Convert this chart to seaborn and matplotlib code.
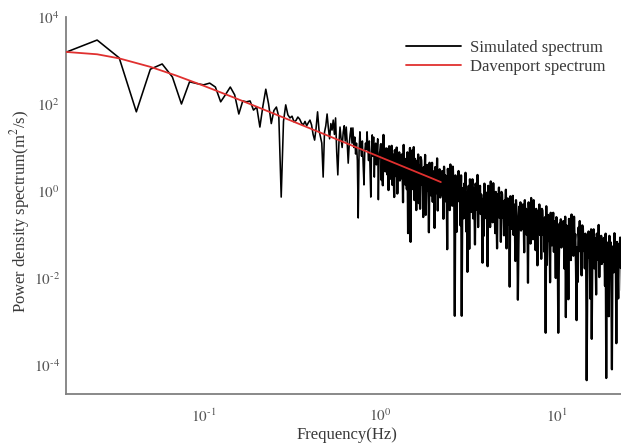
import numpy as np
import pandas as pd
import matplotlib
matplotlib.use("Agg")
import matplotlib.pyplot as plt
import seaborn as sns
from matplotlib.ticker import FixedLocator, NullLocator, FuncFormatter

# ---------------- data (log10 of PSD values) ----------------
# low-frequency part: f = k/120 Hz, k = 2..120
sim_low_k = np.arange(2, 121)
sim_low_log = [
    3.19, 3.47, 3.06, 1.82, 2.80, 2.92, 2.62, 2.00, 2.51, 2.47,
    2.44, 2.48, 2.39, 2.05, 2.22, 2.39, 2.21, 1.77, 2.07, 2.05,
    2.07, 1.86, 1.93, 1.47, 1.95, 2.34, 2.00, 1.55, 1.85, 1.93,
    1.70, -0.14, 1.60, 1.98, 1.75, 1.68, 1.72, 1.59, 1.62, 1.70,
    1.65, 1.56, 1.52, 1.60, 1.50, 1.57, 1.63, 1.52, 1.30, 1.17,
    1.45, 1.82, 1.40, 1.25, 1.10, 0.32, 1.35, 1.50, 1.77, 1.45,
    1.20, 1.55, 1.40, 1.63, 1.30, 1.68, 0.90, 0.37, 1.10, 1.47,
    1.20, 1.00, 1.35, 1.50, 1.15, 1.47, 1.10, 0.64, 1.05, 1.30,
    1.45, 1.10, 1.45, 1.00, 1.24, 0.85, 1.10, 0.70, -0.62, 0.90,
    1.36, 1.00, 0.80, 1.15, 0.60, 0.14, 0.90, 1.10, 0.95, 1.36,
    1.00, 0.70, 1.15, 0.50, -0.14, 0.90, 1.29, 0.80, 1.24, 0.32,
    0.95, 1.10, 0.60, 0.85, 1.20, -0.20, 0.70, 0.90, 0.94,
]
# high-frequency part (1 Hz .. 23.5 Hz, log-spaced samples)
sim_high_log = [
    1.08, 0.25, 0.83, 0.13, 1.29, 0.63, 0.98, 0.45, 0.73, 0.98, 0.38, 0.88, 0.02, 1.03, 0.68, 0.28,
    0.74, 1.04, 0.14, 0.84, 0.49, -0.14, 0.94, 0.64, 0.34, 1.00, -0.06, 0.79, 0.54, 0.89, 0.24, 0.69,
    0.29, 0.84, 0.59, -0.26, 1.06, 0.44, 0.74, 0.14, 0.64, 0.04, 0.89, -0.97, 0.74, -0.06, 0.99, -1.17,
    0.76, 0.04, 0.94, 0.34, 1.01, -0.21, 0.74, 0.24, -0.44, 0.69, 0.44, 0.84, -0.28, 0.59, -0.41, 0.78,
    0.70, 0.15, 0.45, -0.60, 0.55, 0.25, 0.83, -0.55, 0.35, 0.60, 0.00, 0.50, -0.95, 0.65, 0.30, -0.10,
    0.35, 0.65, -0.25, 0.45, 0.10, -0.85, 0.55, 0.25, -0.05, 0.75, -0.45, 0.40, 0.15, 0.50, -0.15, 0.30,
    -0.09, 0.46, 0.21, -0.64, 0.56, 0.06, 0.36, -0.24, 0.26, -1.34, 0.51, 0.11, 0.36, -0.44, 0.61, 0.16,
    0.26, -0.34, 0.56, -0.04, 0.16, -2.87, 0.36, -0.14, -0.94, 0.31, 0.06, 0.46, -0.24, 0.21, -0.79, 0.36,
    -2.87, -0.23, 0.07, -0.63, 0.17, -0.13, 0.42, -0.93, -0.03, -1.86, -0.38, 0.12, -1.33, 0.27, -0.08, -0.48,
    -0.03, 0.27, -0.63, 0.07, -0.28, -1.23, 0.17, -0.13, -0.43, 0.37, -0.83, 0.02, -0.23, 0.12, -0.53, -0.08,
    -0.48, -1.65, -0.18, -1.03, 0.17, -0.33, -0.03, -0.63, -0.13, -1.73, 0.12, -0.28, -0.03, -0.83, 0.22, -0.23,
    -0.12, -0.72, 0.18, -0.42, -0.22, -0.97, -0.02, -0.52, -1.32, -0.07, -0.32, 0.08, -0.62, -0.17, -1.17, -0.02,
    -0.07, -0.62, -0.32, -1.02, -0.22, -0.52, 0.03, -1.32, -0.42, -0.17, -0.77, -0.27, -2.20, -0.12, -0.47, -0.87,
    -0.41, -0.11, -1.01, -0.31, -0.66, -1.61, -0.21, -0.51, -0.81, -2.50, -1.21, -0.36, -0.61, -0.26, -0.91, -0.46,
    -0.86, -0.31, -0.56, -1.41, -0.21, -0.71, -0.41, -1.01, -0.51, -2.11, -0.26, -0.66, -0.41, -1.21, -0.16, -0.61,
    -0.51, -1.11, -0.21, -0.81, -0.61, -1.36, -0.41, -0.91, -1.71, -0.46, -0.71, -0.31, -1.01, -0.56, -1.56, -0.41,
    -0.45, -1.00, -0.70, -1.40, -0.60, -3.26, -0.35, -1.70, -0.80, -0.55, -1.15, -0.65, -2.10, -0.50, -0.85, -1.25,
    -0.80, -0.50, -1.40, -0.70, -1.05, -2.00, -0.60, -0.90, -1.20, -3.26, -1.60, -0.75, -1.00, -0.65, -1.30, -0.85,
    -1.24, -0.69, -0.94, -1.79, -0.59, -2.90, -0.79, -1.39, -0.89, -2.49, -0.64, -1.04, -0.79, -1.59, -0.54, -0.99,
    -0.89, -1.49, -0.59, -1.19, -0.99, -1.74, -2.97, -1.29, -2.09, -0.84, -1.09, -0.69, -1.39, -0.94, -1.94, -0.79,
    -0.83, -1.38, -1.08, -1.78, -0.98, -1.28, -4.35, -2.08, -1.18, -0.93, -1.53, -1.03, -2.48, -0.88, -3.40, -1.63,
    -1.18, -0.88, -1.78, -1.08, -1.43, -2.38, -0.98, -1.28, -1.58, -0.78, -1.98, -1.13, -1.38, -1.03, -1.68, -1.23,
    -1.63, -1.08, -1.33, -2.18, -0.98, -4.30, -1.18, -1.78, -1.28, -2.88, -1.03, -1.43, -1.18, -1.98, -4.10, -1.38,
    -1.27, -1.87, -0.97, -1.57, -1.37, -3.50, -1.17, -1.67, -2.47, -1.22, -1.47, -1.07, -1.77, -1.32, -2.32, -1.17,
]
dav_freq = [1/60, 0.025, 0.0333, 0.05, 0.07, 0.1, 0.15, 0.2, 0.3, 0.5, 0.7, 1.0, 1.5, 2.0, 2.2]
dav_log = [3.197, 3.143, 3.049, 2.854, 2.654, 2.42, 2.141, 1.937, 1.647, 1.279, 1.036, 0.778, 0.484, 0.276, 0.205]

y_ticks = [1e-4, 1e-2, 1e0, 1e2, 1e4]
x_ticks = [1e-1, 1e0, 1e1]

# ---------------- frames ----------------
low_freq = sim_low_k / 120.0
high_freq = np.geomspace(1.0, 23.5, len(sim_high_log) + 1)[1:]
low_df = pd.DataFrame({"freq": low_freq, "psd": 10.0 ** np.array(sim_low_log)})
# the dense part starts at the last low-frequency sample so the trace is continuous
high_df = pd.DataFrame({"freq": np.concatenate([[low_freq[-1]], high_freq]),
                        "psd": 10.0 ** np.array([sim_low_log[-1]] + sim_high_log)})
dav_df = pd.DataFrame({"freq": dav_freq, "psd": 10.0 ** np.array(dav_log)})

# ---------------- style ----------------
sns.set_theme(style="white")
plt.rcParams["font.family"] = ["Liberation Serif", "DejaVu Serif"]
plt.rcParams["mathtext.fontset"] = "stix"
txt_col = "#3a3a3a"
plt.rcParams["text.color"] = txt_col

fig = plt.figure(figsize=(6.21, 4.43), dpi=100)
ax = fig.add_axes([66 / 621, 1 - 394 / 443, 1 - 66 / 621, (394 - 17) / 443])
ax.set(xscale="log", yscale="log")

sns.lineplot(data=low_df, x="freq", y="psd", color="#000000", linewidth=1.15,
             estimator=None, sort=False, ax=ax, label="Simulated spectrum", zorder=2)
sns.lineplot(data=high_df, x="freq", y="psd", color="#000000", linewidth=1.6,
             estimator=None, sort=False, ax=ax, zorder=2, legend=False)
sns.lineplot(data=dav_df, x="freq", y="psd", color="#e0302f", linewidth=1.3,
             estimator=None, sort=False, ax=ax, label="Davenport spectrum", zorder=3)

ax.set_xlim(1 / 60, 23.0)
ax.set_ylim(10 ** -4.667, 1e4)
ax.xaxis.set_major_locator(FixedLocator(x_ticks))
ax.yaxis.set_major_locator(FixedLocator(y_ticks))
ax.xaxis.set_minor_locator(NullLocator())
ax.yaxis.set_minor_locator(NullLocator())


def sci_label(v, p):
    e = int(round(np.log10(v)))
    if e < 0:
        return "$10^{\u2010%d}$" % (-e)
    return "$10^{%d}$" % e


fmt = FuncFormatter(sci_label)
ax.xaxis.set_major_formatter(fmt)
ax.yaxis.set_major_formatter(fmt)

for s in ["top", "right"]:
    ax.spines[s].set_visible(False)
for s in ["left", "bottom"]:
    ax.spines[s].set_color("#808080")
    ax.spines[s].set_linewidth(1.3)
ax.tick_params(direction="in", length=4, width=1, color="#606060",
               labelsize=11, labelcolor="#555555")
ax.tick_params(axis="y", pad=4.5)
ax.tick_params(axis="x", pad=10)

ax.set_xlabel("Frequency(Hz)", fontsize=12, color=txt_col)
ax.set_ylabel(r"Power density spectrum(m$^{2}$/s)", fontsize=12, color=txt_col)
ax.xaxis.set_label_coords(0.506, -0.109)
ax.xaxis.label.set_va("center")
ax.yaxis.set_label_coords(-0.083, 0.485)
ax.yaxis.label.set_va("center")

leg = ax.legend(loc="upper left", bbox_to_anchor=(406 / 621, 1 - 40 / 443),
                bbox_transform=fig.transFigure, frameon=False, fontsize=12,
                handlelength=3.3, handletextpad=0.55, labelspacing=0.2,
                borderpad=0, borderaxespad=0)
for t in leg.get_texts():
    t.set_color(txt_col)
for h in leg.legend_handles:
    h.set_linewidth(1.3)

fig.savefig("out.png", dpi=100)
